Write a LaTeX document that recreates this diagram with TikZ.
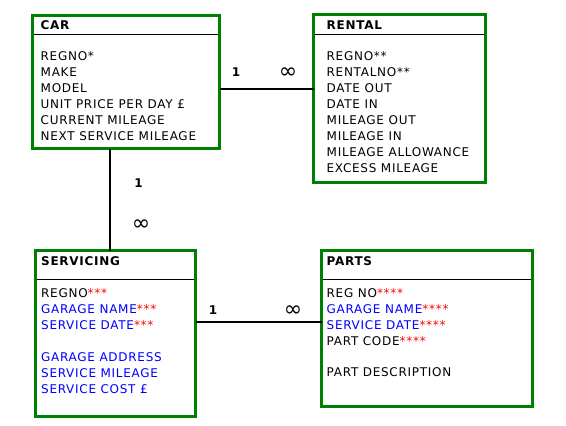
\documentclass[tikz,border=0pt]{standalone}
\usepackage{fontspec}
\newfontfamily\erdfont{DejaVu Sans}[LetterSpace=6]
\newfontfamily\symfont{DejaVu Sans}
\definecolor{erdgreen}{RGB}{0,128,0}
\newcommand{\keymark}[1]{\textcolor{red}{#1}}

\begin{document}
\begin{tikzpicture}[x=1pt, y=-1pt, every node/.style={font=\erdfont\fontsize{12}{14}\selectfont}]
  \tikzset{entity/.style={rectangle, draw=erdgreen, line width=3pt, outer sep=0pt, inner sep=0pt},
    hline/.style={black, line width=1pt, shorten <=1.5pt, shorten >=1.5pt},
    title/.style={anchor=base west, inner sep=0pt, font=\erdfont\bfseries\fontsize{12}{14}\selectfont},
    field/.style={anchor=base west, inner sep=0pt},
    rel/.style={black, line width=2pt},
    card/.style={inner sep=0pt, font=\erdfont\bfseries\fontsize{12}{14}\selectfont},
    many/.style={inner sep=0pt, font=\symfont\fontsize{22}{22}\selectfont}}
  \useasboundingbox (0,0) rectangle (566,426);

  % entities
  \node[entity, minimum width=187.5pt, minimum height=133.5pt] (car) at (125.75,81.75) {};
  \node[entity, minimum width=172pt, minimum height=168pt] (rental) at (399.5,98.5) {};
  \node[entity, minimum width=160pt, minimum height=165.5pt] (servicing) at (115.5,333.25) {};
  \node[entity, minimum width=211pt, minimum height=155.5pt] (parts) at (427,328.25) {};

  % header rules
  \draw[hline] (car.west |- 0,34) -- (car.east |- 0,34);
  \draw[hline] (rental.west |- 0,34) -- (rental.east |- 0,34);
  \draw[hline] (servicing.west |- 0,279) -- (servicing.east |- 0,279);
  \draw[hline] (parts.west |- 0,279) -- (parts.east |- 0,279);

  % titles
  \node[title] (car-t) at (40.5,29) {CAR};
  \node[title] (rental-t) at (326.5,29) {RENTAL};
  \node[title] (servicing-t) at (41,265.5) {SERVICING};
  \node[title] (parts-t) at (326.5,265.5) {PARTS};

  % attributes
  \foreach \y/\t [count=\i] in {60.5/REGNO*, 76.5/MAKE, 92.5/MODEL, 108.5/UNIT PRICE PER DAY £,
      124.5/CURRENT MILEAGE, 140.5/NEXT SERVICE MILEAGE}
    \node[field] (car-f\i) at (40.5,\y) {\t};
  \foreach \y/\t [count=\i] in {60.5/REGNO**, 76.5/RENTALNO**, 92.5/DATE OUT, 108.5/DATE IN,
      124.5/MILEAGE OUT, 140.5/MILEAGE IN, 156.5/MILEAGE ALLOWANCE, 172.5/EXCESS MILEAGE}
    \node[field] (rental-f\i) at (326.5,\y) {\t};
  \foreach \y/\t [count=\i] in {297.5/REGNO\keymark{***},
      313.5/{\color{blue}GARAGE NAME}\keymark{***},
      329.5/{\color{blue}SERVICE DATE}\keymark{***},
      361/{\color{blue}GARAGE ADDRESS}, 377/{\color{blue}SERVICE MILEAGE},
      393/{\color{blue}SERVICE COST £}}
    \node[field] (servicing-f\i) at (41,\y) {\t};
  \foreach \y/\t [count=\i] in {297.5/REG NO\keymark{****},
      313.5/{\color{blue}GARAGE NAME}\keymark{****},
      329.5/{\color{blue}SERVICE DATE}\keymark{****},
      345.5/PART CODE\keymark{****}, 376.5/PART DESCRIPTION}
    \node[field] (parts-f\i) at (326.5,\y) {\t};

  % relationships
  \coordinate (cr) at (0,88.5);
  \coordinate (cs) at (110,0);
  \coordinate (sp) at (0,322);
  \draw[rel] (car.east |- cr) -- (rental.west |- cr);
  \draw[rel] (car.south -| cs) -- (servicing.north -| cs);
  \draw[rel] (servicing.east |- sp) -- (parts.west |- sp);

  \node[card] (cr-one) at (236,72) {1};
  \node[many] (cr-many) at (288,73.5) {∞};
  \node[card] (cs-one) at (138.5,183.5) {1};
  \node[many] (cs-many) at (141,225) {∞};
  \node[card] (sp-one) at (213,310) {1};
  \node[many] (sp-many) at (293,311.5) {∞};
\end{tikzpicture}
\end{document}
